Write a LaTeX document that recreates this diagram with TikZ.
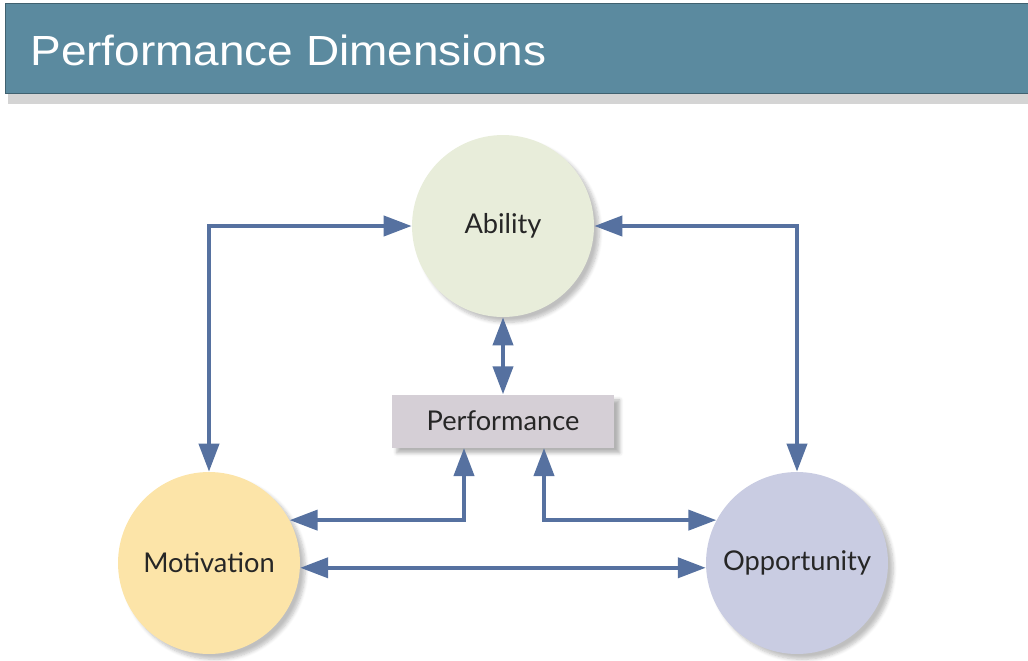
\documentclass[tikz,border=0pt]{standalone}
\usepackage{fontspec}
\setmainfont{Lato}
\newfontfamily\titlefont{Liberation Sans}
\usepackage{tikz}
\usetikzlibrary{arrows.meta, calc, positioning, shadows.blur}

\definecolor{barblue}{HTML}{5B8A9F}
\definecolor{linkblue}{HTML}{5671A0}
\definecolor{abilityfill}{HTML}{E8EDDA}
\definecolor{motivfill}{HTML}{FCE4A8}
\definecolor{opportfill}{HTML}{C9CCE2}
\definecolor{perffill}{HTML}{D5CFD6}

\tikzset{
  >={Triangle[length=0.56cm,width=0.4cm]}, % wide flat heads
  dim/.style={circle, minimum size=3.64cm, inner sep=0pt, text=black!85,
    font=\fontsize{15.5}{18}\selectfont,
    blur shadow={shadow xshift=3pt, shadow yshift=-3pt, shadow blur steps=6, shadow opacity=25}},
  perfbox/.style={rectangle, minimum width=4.46cm, minimum height=1.06cm, fill=perffill,
    text=black!85, font=\fontsize{15.5}{18}\selectfont,
    blur shadow={shadow xshift=3pt, shadow yshift=-3pt, shadow blur steps=5, shadow opacity=30}},
  link/.style={<->, draw=linkblue, line width=0.08cm},
}

\begin{document}
\begin{tikzpicture}[x=0.02cm,y=-0.02cm]
  \useasboundingbox (0,0) rectangle (1028,660);

  % title bar with its grey shade
  \fill[black!17] (8,93) rectangle (1028,104);
  \draw[barblue!70!black, fill=barblue] (5,3) rectangle (1028,93);
  \node[anchor=base west, text=white, xscale=1.09, inner sep=0pt] (title) at (30,65)
    {\titlefont\fontsize{24}{28}\selectfont Performance Dimensions};

  % the three dimensions
  \node[dim, fill=abilityfill] (ability) at (503,226) {Ability};
  \node[dim, fill=motivfill] (motivation) at (209,563) {Motivation};
  \node[dim, fill=opportfill] (opportunity) at (797,563) {Opportunity};
  \node[perfbox, below=1.54cm of ability] (perf) {Performance};

  % feet of the two links under the box
  \coordinate (perfL) at ($(perf.south)+(-39,0)$);
  \coordinate (perfR) at ($(perf.south)+(41,0)$);

  \draw[link] (ability.west) -| (motivation.north);
  \draw[link] (ability.east) -| (opportunity.north);
  \draw[link] (ability.south) -- (perf.north);
  \draw[link] (motivation.28) -| (perfL);
  \draw[link] (perfR) |- (opportunity.152);
  \draw[link] (motivation.-3) -- (opportunity.183);
\end{tikzpicture}
\end{document}
